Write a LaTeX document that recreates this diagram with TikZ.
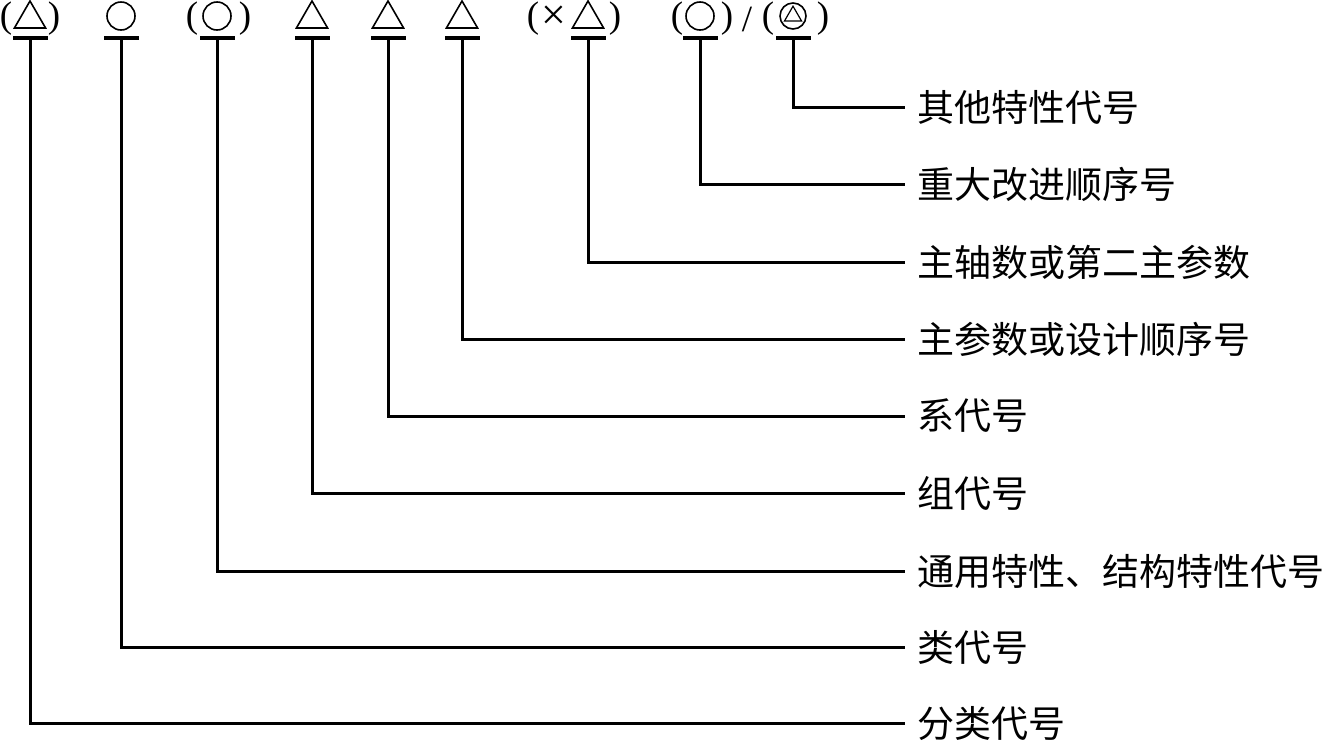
\documentclass[tikz,border=0pt]{standalone}
\usepackage{fontspec}
\setmainfont{Liberation Serif}
\newfontfamily\cjk{Noto Sans CJK SC}
\usepackage{tikz}
\usetikzlibrary{shapes.geometric}
\tikzset{
  lead/.style={line width=1.5pt},
  barline/.style={line width=1.8pt},
  tri/.style={draw,regular polygon,regular polygon sides=3,
              minimum size=18pt,inner sep=0pt,line width=0.8pt},
  smalltri/.style={tri,minimum size=9.8pt,line width=0.6pt},
  ring/.style={draw,circle,minimum size=14pt,inner sep=0pt,line width=0.8pt},
  paren/.style={inner sep=0pt,font=\fontsize{18.5}{18.5}\selectfont},
  lbl/.style={anchor=west,inner xsep=6pt,inner ysep=0pt,
              font=\cjk\fontsize{18.5}{20}\selectfont}
}

\begin{document}
\begin{tikzpicture}[x=0.5pt,y=-0.5pt]
  \useasboundingbox (0,0) rectangle (1325,740);
  % code symbols
  \node[paren] (pa1) at (6,19) {(};
  \node[tri] (sy1) at (30,19) {};
  \node[paren] (pb1) at (54,19) {)};
  \node[ring] (sy2) at (121,16) {};
  \node[paren] (pa3) at (192,19) {(};
  \node[ring] (sy3) at (217,16) {};
  \node[paren] (pb3) at (245,19) {)};
  \node[tri] (sy4) at (312,19) {};
  \node[tri] (sy5) at (388,19) {};
  \node[tri] (sy6) at (462,19) {};
  \node[paren] (pa7) at (533,19) {(};
  \node[paren,font=\fontsize{22}{22}\selectfont] (cross7) at (554,18) {×};
  \node[tri] (sy7) at (588,19) {};
  \node[paren] (pb7) at (615,19) {)};
  \node[paren] (pa8) at (677,19) {(};
  \node[ring] (sy8) at (700,16) {};
  \node[paren] (pb8) at (727,19) {)};
  \node[paren] (slash) at (747,19) {/};
  \node[paren] (pa9) at (768,19) {(};
  \node[ring,minimum size=13pt] (sy9) at (793,16) {};
  \node[smalltri] (sy9t) at (793,16) {};
  \node[paren] (pb9) at (823,19) {)};

  % leader lines
  \foreach \x/\y/\t [count=\i] in {30/723/分类代号,121/647/类代号,
      217/571/通用特性、结构特性代号,312/493/组代号,388/416/系代号,
      462/339/主参数或设计顺序号,588/262/主轴数或第二主参数,
      700/184/重大改进顺序号,793/107/其他特性代号}{
    \coordinate (bar\i) at (\x,38);
    \node[lbl] (lab\i) at (905,\y) {\t};
    \draw[barline] (bar\i) ++(-17,0) -- ++(35,0);
    \draw[lead] (bar\i) |- (lab\i.west);
  }
\end{tikzpicture}
\end{document}
